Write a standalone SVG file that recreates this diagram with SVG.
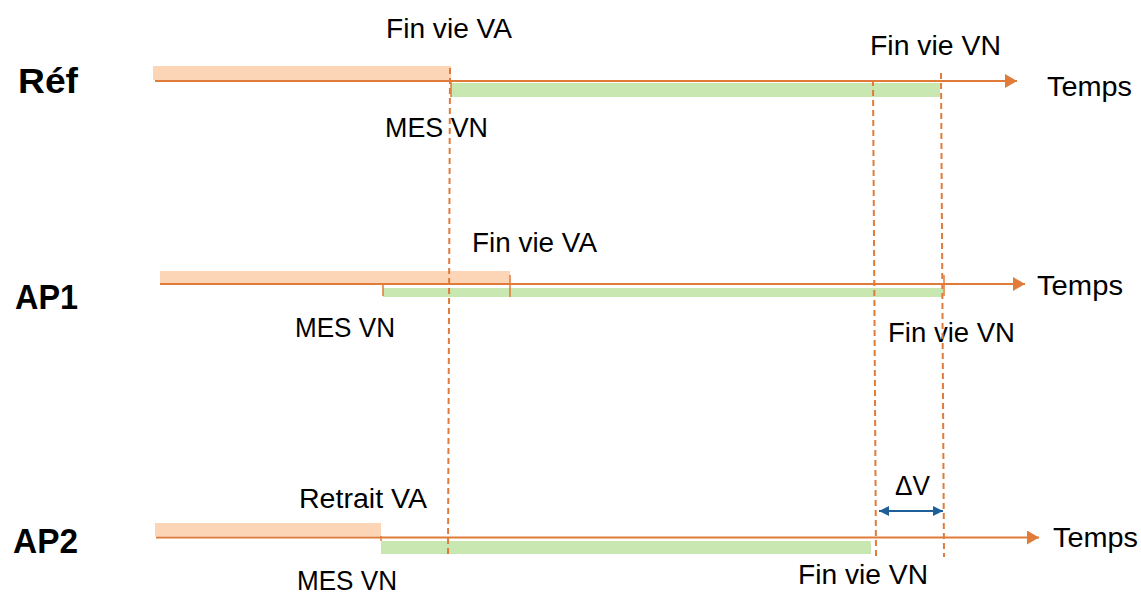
<svg xmlns="http://www.w3.org/2000/svg" width="1141" height="594" viewBox="0 0 1141 594">
  <style>
    .lbl { font-family: "Liberation Sans", Arial, sans-serif; font-size: 27px; fill: #000; }
    .row { font-family: "Liberation Sans", Arial, sans-serif; font-size: 35px; font-weight: bold; fill: #000; }
    .old { fill: #FBD5B5; }
    .new { fill: #C9E7B0; }
    .axis { stroke: #E07B39; stroke-width: 2; fill: none; }
    .tick { stroke: #E07B39; stroke-width: 1.5; fill: none; }
    .guide { stroke: #E07B39; stroke-width: 2; stroke-dasharray: 6 4; fill: none; }
    .delta { stroke: #1F5F99; stroke-width: 2; fill: none; }
  </style>
  <defs>
    <marker id="arrow-time" viewBox="0 0 12 14" refX="12" refY="7" markerWidth="12" markerHeight="14" markerUnits="userSpaceOnUse" orient="auto">
      <path d="M0,0 L12,7 L0,14 Z" fill="#E07B39"/>
    </marker>
    <marker id="arrow-delta" viewBox="0 0 10 10" refX="10" refY="5" markerWidth="10" markerHeight="10" markerUnits="userSpaceOnUse" orient="auto-start-reverse">
      <path d="M0,0 L10,5 L0,10 Z" fill="#1F5F99"/>
    </marker>
  </defs>

  <rect width="1141" height="594" fill="#fff"/>

  <!-- Reference scenario -->
  <g id="row-ref">
    <text class="row" x="18" y="93" textLength="60" lengthAdjust="spacingAndGlyphs">Réf</text>
    <rect class="old" x="153" y="66" width="298" height="14"/>
    <rect class="new" x="451" y="83" width="489" height="14"/>
    <text class="lbl" x="386" y="38" textLength="126" lengthAdjust="spacingAndGlyphs">Fin vie VA</text>
    <text class="lbl" x="385" y="137" textLength="103" lengthAdjust="spacingAndGlyphs">MES VN</text>
    <text class="lbl" x="870" y="55" textLength="131" lengthAdjust="spacingAndGlyphs">Fin vie VN</text>
    <text class="lbl" x="1047" y="96" textLength="85" lengthAdjust="spacingAndGlyphs">Temps</text>
  </g>

  <!-- Scenario AP1 -->
  <g id="row-ap1">
    <text class="row" x="15" y="309" textLength="63" lengthAdjust="spacingAndGlyphs">AP1</text>
    <rect class="old" x="160" y="271" width="350" height="12"/>
    <rect class="new" x="383" y="288" width="560" height="9"/>
    <text class="lbl" x="472" y="252" textLength="125" lengthAdjust="spacingAndGlyphs">Fin vie VA</text>
    <text class="lbl" x="295" y="337" textLength="100" lengthAdjust="spacingAndGlyphs">MES VN</text>
    <text class="lbl" x="888" y="342" textLength="127" lengthAdjust="spacingAndGlyphs">Fin vie VN</text>
    <text class="lbl" x="1037" y="295" textLength="86" lengthAdjust="spacingAndGlyphs">Temps</text>
  </g>

  <!-- Scenario AP2 -->
  <g id="row-ap2">
    <text class="row" x="13" y="553" textLength="65" lengthAdjust="spacingAndGlyphs">AP2</text>
    <rect class="old" x="155" y="523" width="226" height="13"/>
    <rect class="new" x="381" y="541" width="490" height="13"/>
    <text class="lbl" x="299" y="508" textLength="128" lengthAdjust="spacingAndGlyphs">Retrait VA</text>
    <text class="lbl" x="297" y="590" textLength="100" lengthAdjust="spacingAndGlyphs">MES VN</text>
    <text class="lbl" x="798" y="584" textLength="130" lengthAdjust="spacingAndGlyphs">Fin vie VN</text>
    <text class="lbl" x="1053" y="547" textLength="85" lengthAdjust="spacingAndGlyphs">Temps</text>
    <text class="lbl" x="895" y="495" textLength="35" lengthAdjust="spacingAndGlyphs">ΔV</text>
  </g>

  <!-- Time axes, ticks, guide lines and the ΔV span -->
  <g id="connectors">
    <line class="axis" x1="155" y1="81" x2="1017" y2="81" marker-end="url(#arrow-time)"/>
    <line class="axis" x1="160" y1="284" x2="1025" y2="284" marker-end="url(#arrow-time)"/>
    <line class="axis" x1="156" y1="537.5" x2="1039" y2="537.5" marker-end="url(#arrow-time)"/>

    <line class="tick" x1="451" y1="81" x2="451" y2="97"/>
    <line class="tick" x1="383" y1="283" x2="383" y2="296"/>
    <line class="tick" x1="510" y1="275" x2="510" y2="297"/>
    <line class="tick" x1="944" y1="275" x2="944" y2="296"/>
    <line class="tick" x1="381" y1="536" x2="381" y2="541"/>

    <line class="guide" x1="450" y1="68" x2="448" y2="557"/>
    <line class="guide" x1="873" y1="80" x2="876" y2="557"/>
    <line class="guide" x1="941" y1="73" x2="944" y2="557"/>

    <line class="delta" x1="879" y1="511" x2="943" y2="511" marker-start="url(#arrow-delta)" marker-end="url(#arrow-delta)"/>
  </g>
</svg>
